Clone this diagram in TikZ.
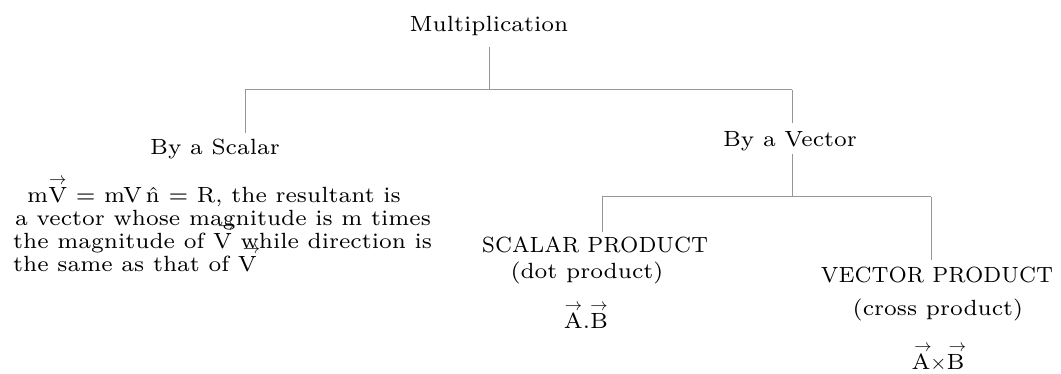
\documentclass[tikz,border=0pt]{standalone}
\usepackage{fontspec}
\setmainfont{lmroman7-regular.otf}[FakeStretch=1.02]
\newfontfamily\capsfont{lmroman7-regular.otf}[FakeStretch=0.95]
\definecolor{linegray}{RGB}{150,150,150}
% a letter with an arrow set above it; the optional length moves the arrow right
\newcommand\arrowover[2][0pt]{\leavevmode\setbox0\hbox{#2}%
  \vbox{\offinterlineskip
    \hbox to\wd0{\hss\kern#1\fontsize{18}{18}\selectfont$\rightarrow$\hss}%
    \kern3pt\box0}}
\tikzset{
  lbl/.style={anchor=base, inner sep=0pt, font=\fontsize{22}{22}\selectfont},
  caps/.style={lbl, font=\fontsize{22}{22}\selectfont\capsfont},
  para/.style={anchor=base west, inner sep=0pt, font=\fontsize{22}{22}\selectfont},
  link/.style={draw=linegray, line width=1pt}
}
\begin{document}
\begin{tikzpicture}[x=1pt, y=-1pt]
\useasboundingbox (0,0) rectangle (1061,374);

% labels
\node[lbl] (mult)   at (489,32)  {Multiplication};
\node[lbl] (scalar) at (215,155) {By a Scalar};
\node[lbl] (vector) at (790,147) {By a Vector};

\node[para] (p1) at (27,203) {m\arrowover{V} = mV\,\^{n} = R, the resultant is};
\node[para] (p2) at (15,226) {a vector whose magnitude is m times};
\node[para] (p3) at (13,249) {the magnitude of \arrowover[8pt]{V} while direction is};
\node[para] (p4) at (13,272) {the same as that of \arrowover[8pt]{V}};

\node[caps] (sprod) at (595,253) {SCALAR PRODUCT};
\node[lbl]  (dprod) at (587,279) {(dot product)};
\node[lbl]  (adotb) at (586,329) {\arrowover{A}.\arrowover{B}};

\node[caps] (vprod) at (937,283) {VECTOR PRODUCT};
\node[lbl]  (cprod) at (938,316) {(cross product)};
\node[lbl]  (axb)   at (938,370) {\arrowover[4pt]{A}$\times$\arrowover[4pt]{B}};

% junction points of the tree
\coordinate (j0) at (489,90);
\coordinate (jl) at (245,90);
\coordinate (jr) at (792,90);
\coordinate (sl) at (245,133);
\coordinate (vt) at (792,123);
\coordinate (vb) at (792,154);
\coordinate (k0) at (792,197);
\coordinate (kl) at (602,197);
\coordinate (kr) at (931,197);
\coordinate (se) at (602,232);
\coordinate (ve) at (931,260);

% connectors
\draw[link] ([yshift=-15pt]mult.base) -- (j0);
\draw[link] (jl) -- (jr);
\draw[link] (jl) -- (sl);
\draw[link] (jr) -- (vt);
\draw[link] (vb) -- (k0);
\draw[link] (kl) -- (kr);
\draw[link] (kl) -- (se);
\draw[link] (kr) -- (ve);
\end{tikzpicture}
\end{document}
